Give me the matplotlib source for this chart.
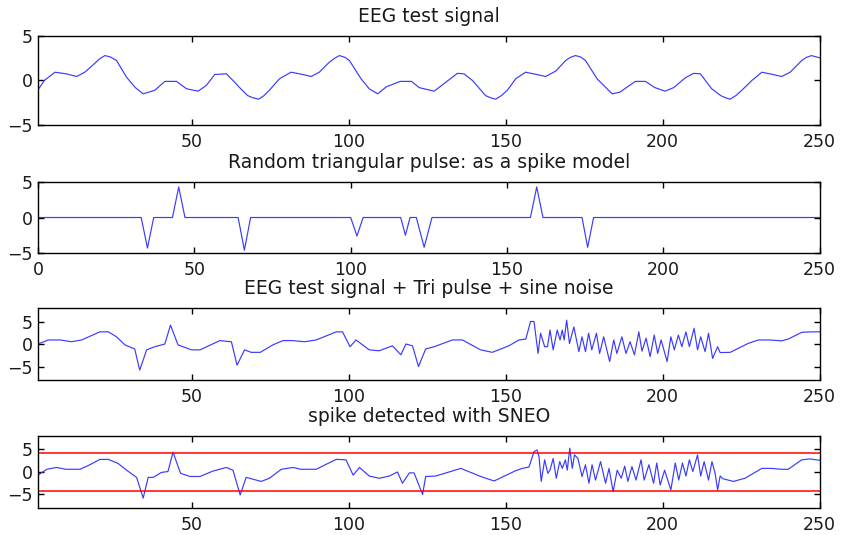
"""EEG test signal / spike model / SNEO detection figure."""

import matplotlib

matplotlib.use("Agg")
import matplotlib.pyplot as plt

# --- data --------------------------------------------------------------------
eeg_x = [1, 3, 6.4, 10, 13.3, 15.9, 19, 20.5, 22.3, 24, 26, 29.2, 32, 34.5,
         38.2, 41.4, 45.1, 48.3, 52, 54.6, 57.3, 61, 63.1, 65.5, 67.8, 69.5,
         71.3, 73, 74.7, 77.9, 81.6, 85, 88, 90.6, 93.8, 95.5, 97, 98.8, 100.2,
         103.9, 106.5, 109.2, 112, 116.4, 120, 122.4, 127.2, 130.9, 134.6,
         136.7, 139.4, 143.6, 145.2, 146.8, 148.6, 150.5, 153.2, 156.3, 159.5,
         162.7, 165.9, 169.1, 170.6, 172.2, 173.8, 175.4, 179.1, 183.9, 186.4,
         191.3, 194.5, 197.5, 200.8, 203.5, 207.2, 209.8, 212, 215.6, 218.5,
         220, 221.5, 223.3, 225.2, 228.4, 231.6, 234.8, 237.9, 240.6, 244.3,
         245.8, 247.4, 250]
eeg_y = [-1.05, 0.0, 0.93, 0.75, 0.45, 0.93, 1.9, 2.4, 2.8, 2.65, 2.25, 0.37,
         -0.8, -1.5, -1.1, -0.1, -0.1, -0.93, -1.2, -0.56, 0.67, 0.75, 0.0,
         -0.9, -1.7, -1.95, -2.1, -1.7, -1.1, 0.19, 0.93, 0.7, 0.45, 0.93, 2.06,
         2.5, 2.8, 2.6, 2.25, 0.19, -0.93, -1.5, -0.7, -0.1, -0.1, -0.8, -1.2,
         -0.2, 0.8, 0.75, 0.0, -1.7, -1.95, -2.1, -1.7, -1.1, 0.2, 0.93, 0.7,
         0.45, 1.05, 2.25, 2.6, 2.8, 2.65, 2.25, 0.19, -1.5, -1.3, -0.1, -0.1,
         -0.8, -1.2, -0.8, 0.3, 0.8, 0.75, -0.93, -1.7, -1.95, -2.1, -1.7,
         -1.1, 0.0, 0.93, 0.7, 0.45, 0.93, 2.25, 2.6, 2.8, 2.55]

pulse_x = [0, 33, 35, 37, 43, 45, 47, 64, 66, 68, 100, 102, 104, 116, 117.5,
           119, 121, 123.5, 126, 157.5, 159.5, 161.5, 174, 175.8, 177.7, 250]
pulse_y = [0, 0, -4.3, 0, 0, 4.3, 0, 0, -4.6, 0, 0, -2.6, 0, 0, -2.5, 0, 0,
           -4.2, 0, 0, 4.3, 0, 0, -4.2, 0, 0]

mix_x = [1, 4.3, 8, 11.7, 14.9, 20.7, 23.4, 26, 28.7, 31.8, 33.4, 35.6, 38.2,
         41.4, 43.2, 45.6, 49.9, 52.6, 58.9, 62.6, 64.4, 66.8, 68.9, 71.8,
         75.8, 79, 82.2, 85.9, 89.6, 96, 98, 100.4, 102.3, 106.5, 109.7, 113.9,
         116.6, 118.2, 120.3, 122.2, 124.5, 127.2, 133, 136.2, 142, 145.7, 151,
         154.2, 156.4, 157.9, 159, 160.3, 161.1, 162.4, 163.3, 164.1, 165.1,
         166.4, 167.3, 168, 168.6, 169.4, 170.3, 171.7, 173.3, 174.3, 175.4,
         176.4, 177.4, 178.9, 179.9, 181.2, 183.1, 184.4, 185.4, 187, 188.3,
         189.6, 191, 192.4, 193.4, 194.7, 196, 197.3, 198.4, 199.5, 201.4,
         202.6, 203.7, 205, 206.1, 207.4, 208.5, 210, 211.1, 212.1, 213.5,
         214.6, 215.9, 217.5, 218.3, 221.5, 227.3, 230.5, 234, 237.9, 240,
         244.3, 247.4, 250]
mix_y = [0.0, 0.9, 0.9, 0.5, 0.9, 2.7, 2.7, 1.6, -0.2, -1.1, -5.8, -1.3, -0.6,
         0.0, 4.2, -0.2, -1.3, -1.3, 0.75, 0.5, -4.7, -1.3, -1.85, -1.85, -0.2,
         0.75, 0.75, 0.5, 0.9, 2.7, 2.7, -0.6, 0.9, -1.3, -1.5, -0.4, -2.4,
         0.0, -0.4, -5.0, -1.1, -0.6, 0.9, 0.9, -1.3, -1.85, -0.4, 0.9, 1.1,
         5.0, 5.0, -2.1, 2.4, -0.6, -0.6, 3.1, -1.3, 3.1, 0.9, 3.1, 0.9, 5.3,
         0.1, 3.8, -1.7, 1.6, -1.7, 2.4, -1.3, 2.4, -2.1, 1.6, -3.9, 0.9, -2.1,
         1.6, -2.1, 0.5, -2.4, 2.7, -1.6, 1.3, -2.8, 2.0, -2.1, 0.9, -3.9, 1.6,
         -1.3, 2.0, -0.6, 2.7, -0.6, 3.5, -1.3, 1.6, -1.7, 2.4, -3.2, -0.6,
         -1.9, -1.85, 0.15, 0.9, 0.9, 0.7, 1.1, 2.6, 2.7, 2.7]

det_x = [1, 3.8, 6.9, 9.9, 14.4, 17.5, 20.7, 23.4, 26.5, 29.2, 32.4, 34.5,
         36.1, 37.7, 40.3, 42.4, 44, 46.4, 49.4, 52.6, 56.7, 61, 63.1, 65.4,
         67.3, 72.1, 74.7, 78.5, 82.2, 84.8, 89.6, 96, 99.1, 101.4, 103.4,
         106.5, 109.7, 112.9, 115.5, 117.1, 119.3, 120.8, 123.5, 124.5, 127.7,
         135.7, 142, 146.3, 153.2, 155.3, 157.4, 159, 160, 160.6, 161.3, 162.4,
         163.4, 164.1, 165.1, 166.1, 167.2, 168, 169, 169.6, 170.4, 171.2,
         171.9, 173, 174.3, 175.4, 176.5, 177.5, 178.6, 180.2, 181.8, 182.9,
         184.2, 185.5, 186.8, 187.9, 188.9, 190.2, 191.5, 193.1, 194.1, 195.6,
         197.1, 198.1, 199.2, 200.6, 202.6, 204, 205.1, 206.3, 207.4, 208.5,
         209.6, 211.1, 212.1, 213.2, 214.6, 215.7, 216.7, 217.5, 218.3, 219.2,
         222.5, 226.2, 231.6, 234.5, 237.9, 240, 244.3, 246.9, 250]
det_y = [-0.7, 0.6, 1.0, 0.6, 0.6, 1.6, 2.8, 2.8, 1.9, 0.4, -1.2, -5.8, -1.2,
         -1.2, -0.1, 0.1, 4.4, -0.3, -1.0, -1.0, 0.2, 1.0, 0.4, -5.1, -1.2,
         -2.1, -1.4, 0.6, 1.0, 0.6, 0.6, 2.8, 2.7, -0.7, 1.0, -0.9, -1.4, -0.9,
         0.0, -2.5, -0.2, -0.2, -5.0, -1.0, -0.9, 0.8, -1.0, -2.0, 0.3, 0.8,
         1.1, 4.5, 4.9, 3.4, -2.1, 2.7, -0.3, 0.4, 3.0, -1.4, 2.3, 0.8, 2.7,
         0.4, 5.3, 0.8, 3.8, 3.0, -1.0, 1.6, -2.5, 1.6, -1.8, 2.3, -2.5, 0.8,
         -4.4, 0.4, -1.4, 1.3, -2.1, 1.2, -1.8, 2.7, -1.8, 1.6, -2.5, 2.0, -2.9,
         0.4, -4.0, 2.0, -1.8, 2.0, -0.9, 2.7, 0.1, 3.8, -0.9, 2.3, -1.8, 2.3,
         -0.3, -4.0, -0.9, -1.5, -2.1, -1.4, 0.8, 0.8, 0.6, 0.6, 2.7, 2.9, 2.6]

threshold = 4.25

titles = ["EEG test signal",
          "Random triangular pulse: as a spike model",
          "EEG test signal + Tri pulse + sine noise",
          "spike detected with SNEO"]

# --- figure -------------------------------------------------------------------
plt.rcParams["font.family"] = ["DejaVu Sans"]
plt.rcParams["axes.unicode_minus"] = True

fig = plt.figure(figsize=(8.45, 5.35), dpi=100)
left, width = 0.045, 0.925
boxes = [(0.7664, 0.1663), (0.5271, 0.1327), (0.2897, 0.1346), (0.0505, 0.1346)]
axes = [fig.add_axes([left, b, width, h]) for b, h in boxes]

line_kw = dict(color="#3a3aff", lw=0.85)
axes[0].plot(eeg_x, eeg_y, **line_kw)
axes[1].plot(pulse_x, pulse_y, **line_kw)
axes[2].plot(mix_x, mix_y, **line_kw)
axes[3].plot(det_x, det_y, **line_kw)
axes[3].axhline(threshold, color="red", lw=1.1)
axes[3].axhline(-threshold, color="red", lw=1.1)

for i, ax in enumerate(axes):
    ax.set_title(titles[i], fontsize=13.5, pad=10, color="#1a1a1a")
    if i == 1:
        ax.set_xlim(0, 250)
        ax.set_xticks([0, 50, 100, 150, 200, 250])
    else:
        ax.set_xlim(1, 250)
        ax.set_xticks([50, 100, 150, 200, 250])
    if i < 2:
        ax.set_ylim(-5, 5)
    else:
        ax.set_ylim(-8, 8)
    ax.set_yticks([-5, 0, 5])
    ax.tick_params(direction="in", top=True, right=True, length=4, width=1,
                   labelsize=12.5, labelcolor="#1a1a1a")
    ax.tick_params(axis="x", pad=6)
    ax.tick_params(axis="y", pad=4)
    for s in ax.spines.values():
        s.set_linewidth(1.0)

fig.savefig("out.png", dpi=100)
plt.close(fig)
